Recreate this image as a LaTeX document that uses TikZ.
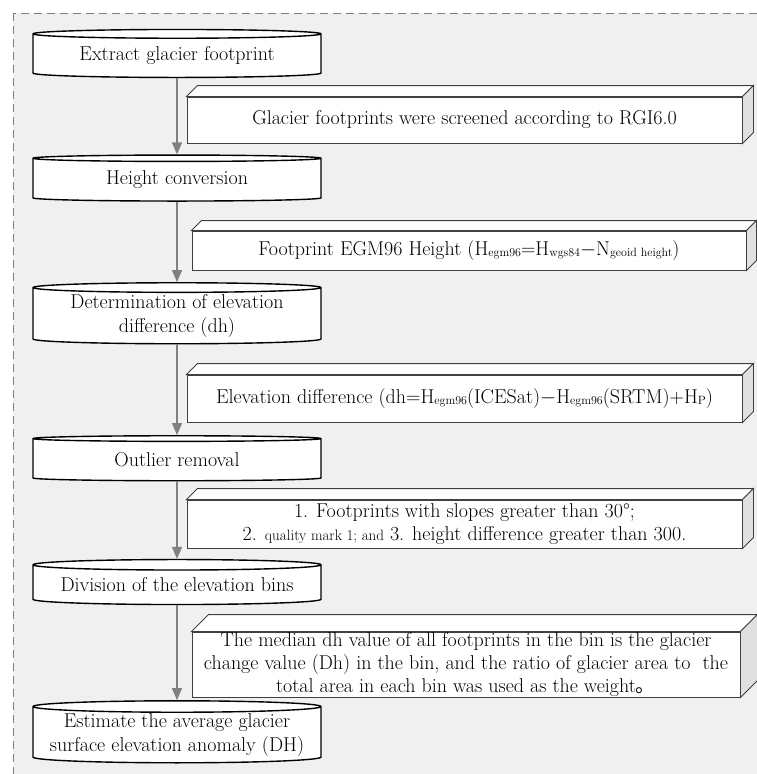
\documentclass[tikz,border=0pt]{standalone}
\usepackage{fontspec}
\usepackage{tikz}
\usetikzlibrary{arrows.meta}
\usetikzlibrary{shapes.geometric}
\newfontfamily\cjk{Noto Sans CJK SC}
\newcommand{\subtxt}[1]{\raisebox{-1.5pt}{\fontsize{12}{12}\selectfont #1}}

\begin{document}
\begin{tikzpicture}[x=1pt, y=-1pt,
		drum/.style={cylinder, shape border rotate=90, aspect=0.045, draw, line width=1.4pt, cylinder uses custom fill, cylinder body fill=white, cylinder end fill=white, minimum width=288pt, inner sep=0pt, align=center, font=\fontsize{20}{24}\selectfont},
		slab/.style={rectangle, draw=black!75, line width=0.9pt, fill=white, inner sep=0pt, align=center, font=\fontsize{20}{23}\selectfont},
		flow/.style={draw=black!50, line width=1.5pt, -{Triangle[length=12pt, width=10pt]}}]
		\useasboundingbox (0,0) rectangle (757,774);
		\draw[gray, dash pattern=on 8pt off 5pt, fill=gray!12] (13,13) rectangle (800,820);
		% main steps
		\node[drum, minimum height=48pt] at (177,56) (s1) {Extract glacier footprint};
		\node[drum, minimum height=46pt] at (177,180) (s2) {Height conversion};
		\node[drum, minimum height=61pt] at (177,316) (s3) {Determination of elevation\\difference (dh)};
		\node[drum, minimum height=45pt] at (177,460) (s4) {Outlier removal};
		\node[drum, minimum height=45pt] at (177,585) (s5) {Division of the elevation bins};
		\node[drum, minimum height=62pt] at (177,735) (s6) {Estimate the average glacier\\surface elevation anomaly (DH)};
		% notes
		\node[slab, minimum width=555pt, minimum height=46pt] at (464.5,120) (na) {Glacier footprints were screened according to RGI6.0};
		\node[slab, minimum width=554pt, minimum height=39pt] at (469,250.5) (nb) {Footprint EGM96 Height (H\subtxt{egm96}=H\subtxt{wgs84}$-$N\subtxt{geoid height})};
		\node[slab, minimum width=555pt, minimum height=47pt] at (464.5,398.5) (nc) {Elevation difference (dh=H\subtxt{egm96}(ICESat)$-$H\subtxt{egm96}(SRTM)+H\subtxt{P})};
		\node[slab, minimum width=555pt, minimum height=48pt] at (464.5,524) (nd) {1. Footprints with slopes greater than 30°;\\2. {\fontsize{15}{15}\selectfont quality mark 1; and} 3. height difference greater than 300.};
		\node[slab, minimum width=548pt, minimum height=65pt] at (466,664.5) (ne) {The median dh value of all footprints in the bin is the glacier\\change value (Dh) in the bin, and the ratio of glacier area to\ \ the\\total area in each bin was used as the weight{\cjk 。}};
		\foreach \n/\d in {na/11,nb/10,nc/11,nd/11,ne/17} {
			\draw[draw=black!75, line width=0.9pt, fill=white] (\n.north west) -- ++(\d,-\d) -- ([shift={(\d,-\d)}]\n.north east) -- (\n.north east) -- cycle;
			\draw[draw=black!75, line width=0.9pt, fill=black!12] (\n.north east) -- ++(\d,-\d) -- ([shift={(\d,-\d)}]\n.south east) -- (\n.south east) -- cycle;
		}
		\draw[flow] (s1) -- (s2);
		\draw[flow] (s2) -- (s3);
		\draw[flow] (s3) -- (s4);
		\draw[flow] (s4) -- (s5);
		\draw[flow] (s5) -- (s6);
	\end{tikzpicture}
\end{document}
